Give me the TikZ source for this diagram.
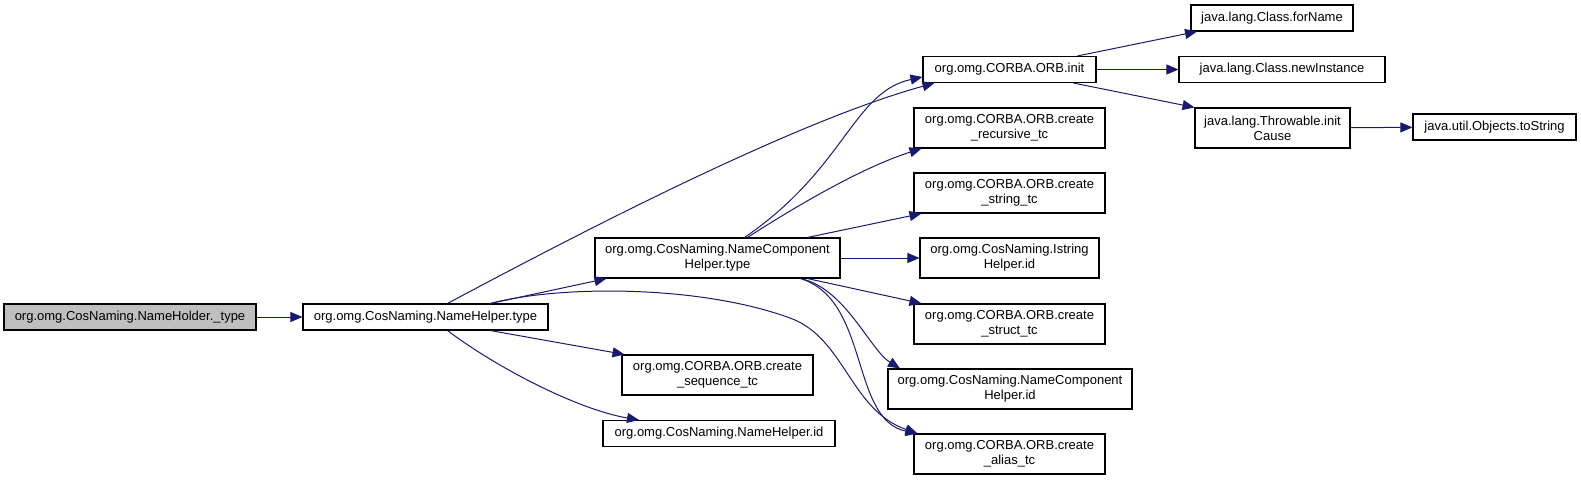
\documentclass[tikz,border=0pt]{standalone}
\usepackage{fontspec}
\setmainfont{Liberation Sans}
\usetikzlibrary{arrows.meta}
\definecolor{edgeblue}{HTML}{191970}
\definecolor{rootgrey}{HTML}{BFBFBF}
\tikzset{
  fn/.style={draw=black, fill=white, line width=1.1pt, inner sep=0pt, align=center,
    font=\fontsize{13}{15}\selectfont},
  rootfn/.style={fn, fill=rootgrey},
  call/.style={draw=edgeblue, line width=1pt, -{Triangle[length=12pt,width=10pt]}}
}

\begin{document}
\begin{tikzpicture}[x=1pt,y=-1pt]
\useasboundingbox (0,0) rectangle (1581,481);
%Caller on the left
\node[rootfn, minimum width=252, minimum height=26] (holder) at (130,317) {org.omg.CosNaming.NameHolder.\_type};
\node[fn, minimum width=245, minimum height=26] (nhtype) at (425.5,317) {org.omg.CosNaming.NameHelper.type};
%Second column
\node[fn, minimum width=245, minimum height=40] (nchtype) at (717.5,258) {org.omg.CosNaming.NameComponent\\Helper.type};
\node[fn, minimum width=191, minimum height=40] (seq) at (717.5,375) {org.omg.CORBA.ORB.create\\\_sequence\_tc};
\node[fn, minimum width=232, minimum height=26] (nhid) at (719,433.5) {org.omg.CosNaming.NameHelper.id};
%Third column
\node[fn, minimum width=173, minimum height=26] (init) at (1009.5,69.5) {org.omg.CORBA.ORB.init};
\node[fn, minimum width=191, minimum height=40] (recursive) at (1009.5,128) {org.omg.CORBA.ORB.create\\\_recursive\_tc};
\node[fn, minimum width=191, minimum height=40] (string) at (1009.5,193) {org.omg.CORBA.ORB.create\\\_string\_tc};
\node[fn, minimum width=179, minimum height=40] (istring) at (1009.5,258) {org.omg.CosNaming.Istring\\Helper.id};
\node[fn, minimum width=191, minimum height=40] (struct) at (1009.5,324) {org.omg.CORBA.ORB.create\\\_struct\_tc};
\node[fn, minimum width=244, minimum height=40] (nchid) at (1010,389) {org.omg.CosNaming.NameComponent\\Helper.id};
\node[fn, minimum width=191, minimum height=40] (alias) at (1009.5,454) {org.omg.CORBA.ORB.create\\\_alias\_tc};
%Fourth and fifth column
\node[fn, minimum width=162, minimum height=26] (forname) at (1272,18) {java.lang.Class.forName};
\node[fn, minimum width=206, minimum height=26] (newinst) at (1282,69.5) {java.lang.Class.newInstance};
\node[fn, minimum width=155, minimum height=40] (throw) at (1272.5,128) {java.lang.Throwable.init\\Cause};
\node[fn, minimum width=163, minimum height=26] (tostring) at (1494.5,127) {java.util.Objects.toString};

%NameHolder._type calls
\draw[call] (holder) -- (nhtype);
%NameHelper.type calls
\draw[call] ([xshift=22]nhtype.north) .. controls (600,222) and (800,120) .. ([xshift=-75]init.south);
\draw[call] ([xshift=65]nhtype.north) -- ([xshift=-111]nchtype.south);
\draw[call] ([xshift=65]nhtype.north) .. controls (560,285) and (700,285) .. (790,318)
  .. controls (845,338) and (850,410) .. ([xshift=-92]alias.north);
\draw[call] ([xshift=65]nhtype.south) -- ([xshift=-93]seq.north);
\draw[call] ([xshift=22]nhtype.south) .. controls (500,370) and (580,410) .. ([xshift=-80]nhid.north);
%NameComponentHelper.type calls
\draw[call] ([xshift=27]nchtype.north) .. controls (845,169) and (853,92) .. ([yshift=-7.5]init.west);
\draw[call] ([xshift=30]nchtype.north) .. controls (790,210) and (860,168) .. ([xshift=-88]recursive.south);
\draw[call] ([xshift=90]nchtype.north) -- ([xshift=-88]string.south);
\draw[call] (nchtype) -- (istring);
\draw[call] ([xshift=90]nchtype.south) -- ([xshift=-88]struct.north);
\draw[call] ([xshift=83]nchtype.south) .. controls (845,288) and (870,350) .. ([xshift=-110]nchid.north);
\draw[call] ([xshift=83]nchtype.south) .. controls (870,300) and (850,420) .. ([xshift=-92]alias.north);
%ORB.init calls
\draw[call] ([xshift=68]init.north) -- ([xshift=-75]forname.south);
\draw[call] (init) -- (newinst);
\draw[call] ([xshift=64]init.south) -- ([xshift=-78]throw.north);
%Throwable.initCause calls
\draw[call] (throw) -- (tostring);
\end{tikzpicture}
\end{document}
